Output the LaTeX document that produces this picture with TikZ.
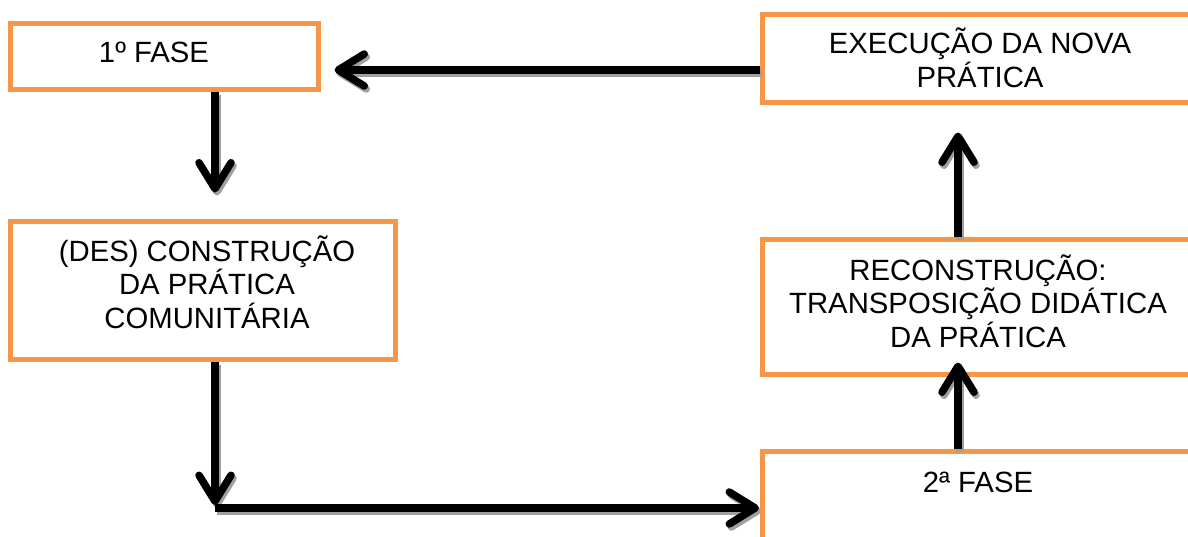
\documentclass[tikz,border=0pt]{standalone}
\usepackage{fontspec}
\setmainfont{Liberation Sans}
\usetikzlibrary{arrows.meta}
\definecolor{boxorange}{RGB}{247,150,70}
\definecolor{shadowgray}{RGB}{160,160,160}
\newcommand{\myconn}[3][]{%
  \begin{scope}[transform canvas={shift={(2pt,-3pt)}}]
    \draw[conn, draw=shadowgray, #1] #2 -- #3;
  \end{scope}
  \draw[conn, #1] #2 -- #3;}
\begin{document}
\begin{tikzpicture}[x=1pt,y=-1pt,
  box/.style={draw=boxorange, line width=5pt, inner sep=0pt},
  lbl/.style={font=\fontsize{29.3}{33.5}\selectfont, align=center, inner sep=0pt},
  conn/.style={line width=7.5pt, -{Straight Barb[length=26pt,width=32pt,round]}}]
\useasboundingbox (0,0) rectangle (1188,536);
\clip (0,0) rectangle (1188,536);
% boxes
\node[box, minimum width=308pt, minimum height=66pt]  (b1) at (164.5,56.5) {};
\node[box, minimum width=385pt, minimum height=138pt] (b2) at (203,290.5) {};
\node[box, minimum width=433pt, minimum height=88pt]  (b3) at (979,58.5) {};
\node[box, minimum width=433pt, minimum height=135pt] (b4) at (979,307) {};
\node[box, minimum width=433pt, minimum height=113pt] (b5) at (979,508) {};
% texts
\node[lbl, anchor=base] (t1) at (154,62) {1º FASE};
\node[lbl] (t2) at (207,282) {(DES) CONSTRUÇÃO\\DA PRÁTICA\\COMUNITÁRIA};
\node[lbl] (t3) at (980,58) {EXECUÇÃO DA NOVA\\PRÁTICA};
\node[lbl] (t4) at (978,301) {RECONSTRUÇÃO:\\TRANSPOSIÇÃO DIDÁTICA\\DA PRÁTICA};
\node[lbl, anchor=base] (t5) at (978,492) {2ª FASE};
% connectors
\coordinate (corner) at (215,508);
\myconn[shorten >=13.5pt]{([yshift=-11.5pt]b3.west)}{([yshift=-13.5pt]b1.east)}
\myconn[shorten >=26.5pt]{([xshift=50.5pt]b1.south)}{([xshift=12pt]b2.north)}
\myconn[shorten >=3pt]{([xshift=12pt]b2.south)}{(corner)}
\myconn[shorten >=1pt]{(corner)}{(corner -| b5.west)}
\myconn[shorten >=-14.5pt]{([xshift=-21pt]b5.north)}{([xshift=-21pt]b4.south)}
\myconn[shorten >=27.5pt]{([xshift=-21pt]b4.north)}{([xshift=-21pt]b3.south)}
\end{tikzpicture}
\end{document}
